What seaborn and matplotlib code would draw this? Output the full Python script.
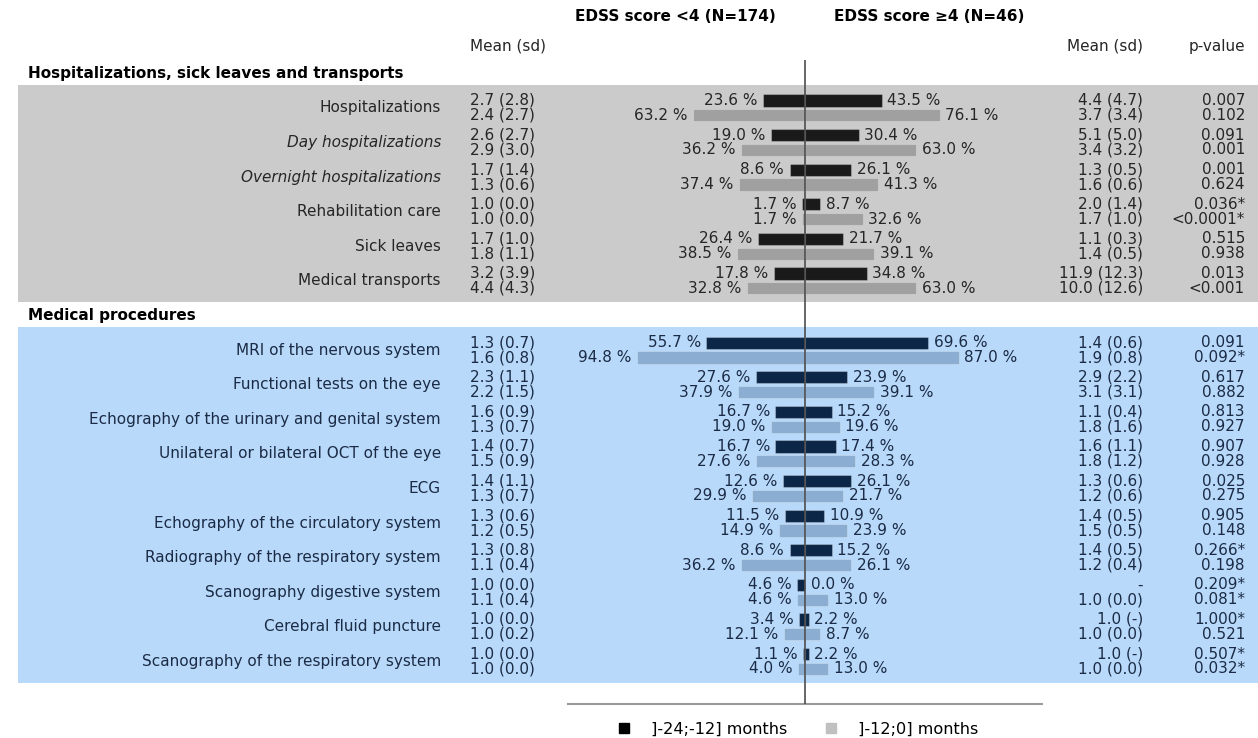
import matplotlib
matplotlib.use("Agg")
import matplotlib.pyplot as plt
import matplotlib.transforms as mtransforms
from matplotlib.patches import Rectangle
from matplotlib.lines import Line2D
import pandas as pd
import seaborn as sns

periods = ["]-24;-12] months", "]-12;0] months"]
groups = ["EDSS score <4 (N=174)", "EDSS score \u22654 (N=46)"]

# section 1
sec1_title = "Hospitalizations, sick leaves and transports"
sec1_items = ["Hospitalizations", "Day hospitalizations", "Overnight hospitalizations",
              "Rehabilitation care", "Sick leaves", "Medical transports"]
sec1_italic = [False, True, True, False, False, False]
sec1_low_early = [23.6, 19.0, 8.6, 1.7, 26.4, 17.8]
sec1_low_late = [63.2, 36.2, 37.4, 1.7, 38.5, 32.8]
sec1_high_early = [43.5, 30.4, 26.1, 8.7, 21.7, 34.8]
sec1_high_late = [76.1, 63.0, 41.3, 32.6, 39.1, 63.0]
sec1_mean_low = [("2.7 (2.8)", "2.4 (2.7)"), ("2.6 (2.7)", "2.9 (3.0)"), ("1.7 (1.4)", "1.3 (0.6)"),
                 ("1.0 (0.0)", "1.0 (0.0)"), ("1.7 (1.0)", "1.8 (1.1)"), ("3.2 (3.9)", "4.4 (4.3)")]
sec1_mean_high = [("4.4 (4.7)", "3.7 (3.4)"), ("5.1 (5.0)", "3.4 (3.2)"), ("1.3 (0.5)", "1.6 (0.6)"),
                  ("2.0 (1.4)", "1.7 (1.0)"), ("1.1 (0.3)", "1.4 (0.5)"), ("11.9 (12.3)", "10.0 (12.6)")]
sec1_pval = [("0.007", "0.102"), ("0.091", "0.001"), ("0.001", "0.624"),
             ("0.036*", "<0.0001*"), ("0.515", "0.938"), ("0.013", "<0.001")]

# section 2
sec2_title = "Medical procedures"
sec2_items = ["MRI of the nervous system", "Functional tests on the eye",
              "Echography of the urinary and genital system", "Unilateral or bilateral OCT of the eye",
              "ECG", "Echography of the circulatory system", "Radiography of the respiratory system",
              "Scanography digestive system", "Cerebral fluid puncture",
              "Scanography of the respiratory system"]
sec2_italic = [False] * 10
sec2_low_early = [55.7, 27.6, 16.7, 16.7, 12.6, 11.5, 8.6, 4.6, 3.4, 1.1]
sec2_low_late = [94.8, 37.9, 19.0, 27.6, 29.9, 14.9, 36.2, 4.6, 12.1, 4.0]
sec2_high_early = [69.6, 23.9, 15.2, 17.4, 26.1, 10.9, 15.2, 0.0, 2.2, 2.2]
sec2_high_late = [87.0, 39.1, 19.6, 28.3, 21.7, 23.9, 26.1, 13.0, 8.7, 13.0]
sec2_mean_low = [("1.3 (0.7)", "1.6 (0.8)"), ("2.3 (1.1)", "2.2 (1.5)"), ("1.6 (0.9)", "1.3 (0.7)"),
                 ("1.4 (0.7)", "1.5 (0.9)"), ("1.4 (1.1)", "1.3 (0.7)"), ("1.3 (0.6)", "1.2 (0.5)"),
                 ("1.3 (0.8)", "1.1 (0.4)"), ("1.0 (0.0)", "1.1 (0.4)"), ("1.0 (0.0)", "1.0 (0.2)"),
                 ("1.0 (0.0)", "1.0 (0.0)")]
sec2_mean_high = [("1.4 (0.6)", "1.9 (0.8)"), ("2.9 (2.2)", "3.1 (3.1)"), ("1.1 (0.4)", "1.8 (1.6)"),
                  ("1.6 (1.1)", "1.8 (1.2)"), ("1.3 (0.6)", "1.2 (0.6)"), ("1.4 (0.5)", "1.5 (0.5)"),
                  ("1.4 (0.5)", "1.2 (0.4)"), ("-", "1.0 (0.0)"), ("1.0 (-)", "1.0 (0.0)"),
                  ("1.0 (-)", "1.0 (0.0)")]
sec2_pval = [("0.091", "0.092*"), ("0.617", "0.882"), ("0.813", "0.927"), ("0.907", "0.928"),
             ("0.025", "0.275"), ("0.905", "0.148"), ("0.266*", "0.198"), ("0.209*", "0.081*"),
             ("1.000*", "0.521"), ("0.507*", "0.032*")]

order = sec1_items + [sec2_title] + sec2_items

plt.rcParams["font.family"] = ["DejaVu Sans"]
plt.rcParams["font.size"] = 11

W, H = 1258, 738
fig = plt.figure(figsize=(W / 100, H / 100), dpi=100)
ax = fig.add_axes([568 / W, 1 - 704 / H, 474 / W, 644 / H])
ax.set_facecolor("none")

fx = mtransforms.blended_transform_factory(fig.transFigure, ax.transData)
axy = mtransforms.blended_transform_factory(ax.transAxes, ax.transData)

BAR_W, BAR_GAP = 0.86, 0.18
off = BAR_W / 4


def draw_section(title, items, italic, low_e, low_l, high_e, high_l, m_low, m_high, pv,
                 palette, band, txt):
    n = len(items)
    start = order.index(items[0])
    hue = [periods[0]] * n + [periods[1]] * n
    left = pd.DataFrame({"item": items * 2, "period": hue, "pct": [-v for v in low_e + low_l]})
    right = pd.DataFrame({"item": items * 2, "period": hue, "pct": high_e + high_l})
    for d in (left, right):
        k = len(ax.containers)
        sns.barplot(data=d, x="pct", y="item", hue="period", order=order, hue_order=periods,
                    palette=palette, orient="h", width=BAR_W, gap=BAR_GAP, saturation=1,
                    edgecolor=(1, 1, 1, 0.25), linewidth=0.8, errorbar=None, legend=False, ax=ax)
        for c in ax.containers[k:]:
            ax.bar_label(c, labels=[f"{abs(b.get_width()):.1f} %" for b in c],
                         padding=4, color=txt, fontsize=11)

    ax.add_patch(Rectangle((18 / W, start - 0.66), 1 - 18 / W, n - 1 + 1.28, transform=fx,
                           facecolor=band, edgecolor="none", zorder=0, clip_on=False))
    ax.text(28 / W, start - 1, title, transform=fx, ha="left", va="center",
            fontweight="bold", color="black")
    for i, name in enumerate(items):
        y = start + i
        ax.text(441 / W, y, name, transform=fx, ha="right", va="center", color=txt,
                style="italic" if italic[i] else "normal")
        for j, dy in enumerate((-off, off)):
            ax.text(470 / W, y + dy, m_low[i][j], transform=fx, ha="left", va="center", color=txt)
            ax.text(1143 / W, y + dy, m_high[i][j], transform=fx, ha="right", va="center", color=txt)
            ax.text(1245 / W, y + dy, pv[i][j], transform=fx, ha="right", va="center", color=txt)


draw_section(sec1_title, sec1_items, sec1_italic, sec1_low_early, sec1_low_late,
             sec1_high_early, sec1_high_late, sec1_mean_low, sec1_mean_high, sec1_pval,
             ["#1a1a1a", "#a0a0a0"], "#cbcbcb", "#262626")
draw_section(sec2_title, sec2_items, sec2_italic, sec2_low_early, sec2_low_late,
             sec2_high_early, sec2_high_late, sec2_mean_low, sec2_mean_high, sec2_pval,
             ["#0c2647", "#8aadd1"], "#b8d9fa", "#1b2b45")

ax.axvline(0, color="#4d4d4d", lw=1.2, zorder=5)
ax.set_xlim(-134, 134)
ax.set_ylim(len(order) - 1 + (704 - 661.5) / 34.6, -(107.9 - 60) / 34.6)
ax.set(xlabel="", ylabel="", xticks=[], yticks=[])
for s in ("top", "left", "right"):
    ax.spines[s].set_visible(False)
ax.spines["bottom"].set_color("#999999")
ax.spines["bottom"].set_linewidth(1.5)

# column headers
ax.text(0.439, -2.63, groups[0], transform=axy, ha="right", va="center", fontweight="bold")
ax.text(0.561, -2.63, groups[1], transform=axy, ha="left", va="center", fontweight="bold")
ax.text(470 / W, -1.78, "Mean (sd)", transform=fx, ha="left", va="center", color="#262626")
ax.text(1143 / W, -1.78, "Mean (sd)", transform=fx, ha="right", va="center", color="#262626")
ax.text(1245 / W, -1.78, "p-value", transform=fx, ha="right", va="center", color="#262626")

handles = [Line2D([], [], ls="none", marker="s", markersize=7, markerfacecolor=c,
                  markeredgecolor=c, label=p) for c, p in zip(["#000000", "#c0c0c0"], periods)]
fig.legend(handles=handles, loc="center", bbox_to_anchor=(797 / W, 1 - 729 / H), ncol=2,
           frameon=False, handlelength=1, handletextpad=1.18, columnspacing=2.17,
           fontsize=11.6)

fig.savefig("out.png", dpi=100)
